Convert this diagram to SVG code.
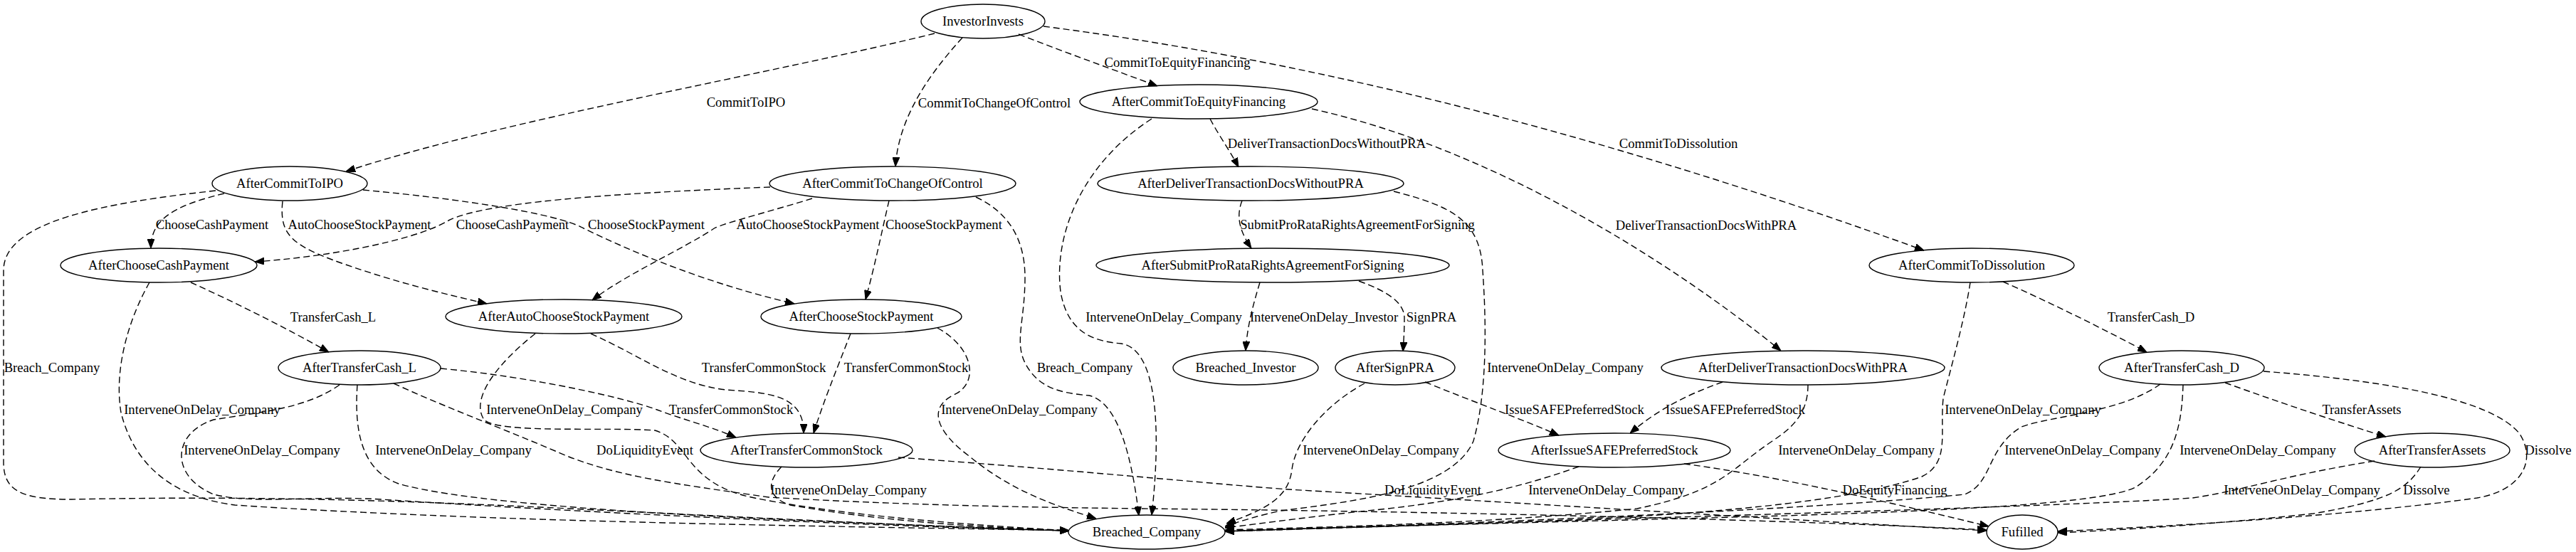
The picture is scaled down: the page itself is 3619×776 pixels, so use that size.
<svg xmlns="http://www.w3.org/2000/svg" width="3619" height="776" viewBox="0 0 3619 776">
<style>
.node ellipse{fill:none;stroke:#000;stroke-width:1.4}
text{font-family:"Liberation Serif","Times New Roman",serif;font-size:18.67px;text-anchor:middle;fill:#000}
.e path{fill:none;stroke:#000;stroke-width:1.4;stroke-dasharray:9,5;marker-end:url(#arr)}
</style>
<defs>
<marker id="arr" viewBox="0 0 13 10" refX="13" refY="5" markerWidth="13" markerHeight="10" markerUnits="userSpaceOnUse" orient="auto">
<path d="M0,0 L13,5 L0,10 z" fill="#000" stroke="#000" stroke-width="1"/>
</marker>
</defs>
<rect width="3619" height="776" fill="#fff"/>
<g id="connectors">
<g class="e"><path d="M1313,47 C1100,100 700,170 486,241"/><text x="1048" y="150">CommitToIPO</text></g>
<g class="e"><path d="M1352,53 C1300,110 1262,170 1258,234"/><text x="1397" y="151">CommitToChangeOfControl</text></g>
<g class="e"><path d="M1431,48 C1500,75 1570,100 1626,121"/><text x="1654" y="94">CommitToEquityFinancing</text></g>
<g class="e"><path d="M1466,37 C1800,80 2200,170 2703,352"/><text x="2358" y="208">CommitToDissolution</text></g>
<g class="e"><path d="M1700,167 C1712,190 1728,212 1740,235"/><text x="1864" y="208">DeliverTransactionDocsWithoutPRA</text></g>
<g class="e"><path d="M1843,153 C2100,210 2350,370 2502,493"/><text x="2397" y="323">DeliverTransactionDocsWithPRA</text></g>
<g class="e"><path d="M1618,167 C1520,230 1480,330 1490,410 C1500,470 1540,480 1575,483 C1625,490 1632,600 1618,724"/><text x="1635" y="452">InterveneOnDelay_Company</text></g>
<g class="e"><path d="M315,272 C240,290 212,310 212,349"/><text x="298" y="322">ChooseCashPayment</text></g>
<g class="e"><path d="M397,283 C392,330 410,345 480,370 C560,398 620,412 684,427"/><text x="505" y="322">AutoChooseStockPayment</text></g>
<g class="e"><path d="M510,267 C650,280 780,300 818,320 C900,360 1000,400 1116,427"/><text x="908" y="322">ChooseStockPayment</text></g>
<g class="e"><path d="M303,268 C150,285 5,310 5,380 L5,650 C5,690 30,702 100,702 C300,698 500,700 800,715 C1100,730 1350,742 1502,746"/><text x="73" y="523">Breach_Company</text></g>
<g class="e"><path d="M1082,263 C850,272 680,285 630,310 C580,340 450,362 358,368"/><text x="720" y="322">ChooseCashPayment</text></g>
<g class="e"><path d="M1141,279 C1090,295 1030,310 1005,320 C960,350 880,385 832,422"/><text x="1135" y="322">AutoChooseStockPayment</text></g>
<g class="e"><path d="M1249,282 C1240,320 1230,370 1216,421"/><text x="1326" y="322">ChooseStockPayment</text></g>
<g class="e"><path d="M1371,277 C1420,300 1440,340 1440,390 C1440,450 1425,480 1440,510 C1460,550 1500,553 1530,556 C1570,565 1590,640 1600,725"/><text x="1524" y="523">Breach_Company</text></g>
<g class="e"><path d="M268,397 C330,425 400,460 462,495"/><text x="468" y="452">TransferCash_L</text></g>
<g class="e"><path d="M210,397 C180,450 160,520 170,580 C190,660 250,700 330,710 C700,735 1200,740 1502,746"/><text x="284" y="582">InterveneOnDelay_Company</text></g>
<g class="e"><path d="M830,469 C900,500 950,540 1020,548 C1080,552 1130,555 1129,609"/><text x="1073" y="523">TransferCommonStock</text></g>
<g class="e"><path d="M752,469 C700,510 660,560 680,590 C700,610 850,600 920,605 C970,620 960,680 1060,700 C1200,728 1400,740 1502,746"/><text x="793" y="582">InterveneOnDelay_Company</text></g>
<g class="e"><path d="M1195,469 C1175,520 1155,570 1143,609"/><text x="1273" y="523">TransferCommonStock</text></g>
<g class="e"><path d="M1317,461 C1370,490 1375,540 1340,555 C1300,575 1320,610 1360,640 C1420,690 1480,710 1540,729"/><text x="1432" y="582">InterveneOnDelay_Company</text></g>
<g class="e"><path d="M619,518 C750,530 880,560 923,576 C960,590 1000,600 1034,615"/><text x="1027" y="582">TransferCommonStock</text></g>
<g class="e"><path d="M477,541 C430,575 360,580 300,590 C240,610 240,670 300,695 C360,710 450,695 550,703 C900,725 1300,742 1502,746"/><text x="368" y="639">InterveneOnDelay_Company</text></g>
<g class="e"><path d="M502,541 C498,600 505,660 560,680 C700,720 1200,735 1502,746"/><text x="637" y="639">InterveneOnDelay_Company</text></g>
<g class="e"><path d="M553,539 C620,570 700,600 780,634 C860,670 950,680 1080,699 C1300,712 1500,714 1700,716 C2200,722 2600,735 2791,745"/><text x="906" y="639">DoLiquidityEvent</text></g>
<g class="e"><path d="M1098,656 C1075,680 1080,700 1110,710 C1250,735 1400,742 1502,746"/><text x="1192" y="695">InterveneOnDelay_Company</text></g>
<g class="e"><path d="M1262,643 C1500,660 1700,680 1810,688 C2100,705 2500,730 2791,746"/><text x="2013" y="695">DoLiquidityEvent</text></g>
<g class="e"><path d="M1770,397 C1760,430 1752,460 1750,493"/><text x="1860" y="452">InterveneOnDelay_Investor</text></g>
<g class="e"><path d="M1909,395 C1950,410 1972,425 1973,446 C1973,465 1972,480 1971,494"/><text x="2011" y="452">SignPRA</text></g>
<g class="e"><path d="M1745,282 C1738,300 1738,320 1758,349"/><text x="1907" y="322">SubmitProRataRightsAgreementForSigning</text></g>
<g class="e"><path d="M1958,269 C2040,290 2080,310 2083,380 C2088,450 2090,550 2070,620 C2040,690 1900,705 1800,718 C1770,724 1745,732 1721,740"/><text x="2199" y="523">InterveneOnDelay_Company</text></g>
<g class="e"><path d="M2002,537 C2070,565 2140,590 2190,612"/><text x="2212" y="582">IssueSAFEPreferredStock</text></g>
<g class="e"><path d="M1917,539 C1860,570 1820,620 1815,660 C1810,700 1780,715 1723,736"/><text x="1940" y="639">InterveneOnDelay_Company</text></g>
<g class="e"><path d="M2420,537 C2370,555 2330,575 2290,609"/><text x="2438" y="582">IssueSAFEPreferredStock</text></g>
<g class="e"><path d="M2540,541 C2540,580 2520,600 2490,620 C2430,660 2420,690 2300,715 C2100,735 1900,740 1721,745"/><text x="2608" y="639">InterveneOnDelay_Company</text></g>
<g class="e"><path d="M2218,656 C2150,680 2080,700 1950,715 C1850,725 1780,735 1721,742"/><text x="2257" y="695">InterveneOnDelay_Company</text></g>
<g class="e"><path d="M2366,652 C2500,670 2650,705 2794,740"/><text x="2662" y="695">DoEquityFinancing</text></g>
<g class="e"><path d="M2814,396 C2880,425 2960,465 3016,495"/><text x="3022" y="452">TransferCash_D</text></g>
<g class="e"><path d="M2768,397 C2760,450 2740,520 2730,560 C2725,610 2740,650 2700,670 C2600,705 2400,725 2100,735 C1950,740 1800,744 1721,746"/><text x="2842" y="582">InterveneOnDelay_Company</text></g>
<g class="e"><path d="M3126,538 C3200,565 3290,595 3352,614"/><text x="3318" y="582">TransferAssets</text></g>
<g class="e"><path d="M3035,540 C2980,580 2880,585 2840,600 C2790,630 2800,680 2760,695 C2500,720 2000,738 1721,747"/><text x="2926" y="639">InterveneOnDelay_Company</text></g>
<g class="e"><path d="M3067,541 C3065,600 3055,650 3000,685 C2950,710 2700,720 2400,728 C2100,736 1850,742 1721,747"/><text x="3172" y="639">InterveneOnDelay_Company</text></g>
<g class="e"><path d="M3180,522 C3350,535 3500,560 3540,610 C3565,650 3540,690 3480,700 C3300,725 3050,740 2891,747"/><text x="3580" y="639">Dissolve</text></g>
<g class="e"><path d="M3336,648 C3200,670 3150,690 3080,700 C2900,712 2400,725 2100,735 C1950,740 1800,745 1721,747"/><text x="3234" y="695">InterveneOnDelay_Company</text></g>
<g class="e"><path d="M3401,656 C3380,690 3350,705 3250,722 C3100,738 2980,745 2891,749"/><text x="3409" y="695">Dissolve</text></g>
</g>
<g id="InvestorInvests" class="node"><ellipse cx="1381" cy="30" rx="87" ry="24"/><text x="1381" y="36">InvestorInvests</text></g>
<g id="AfterCommitToEquityFinancing" class="node"><ellipse cx="1684" cy="143" rx="167" ry="24"/><text x="1684" y="149">AfterCommitToEquityFinancing</text></g>
<g id="AfterCommitToIPO" class="node"><ellipse cx="407" cy="258" rx="109" ry="24"/><text x="407" y="264">AfterCommitToIPO</text></g>
<g id="AfterCommitToChangeOfControl" class="node"><ellipse cx="1254" cy="258" rx="173" ry="24"/><text x="1254" y="264">AfterCommitToChangeOfControl</text></g>
<g id="AfterDeliverTransactionDocsWithoutPRA" class="node"><ellipse cx="1757" cy="258" rx="215" ry="24"/><text x="1757" y="264">AfterDeliverTransactionDocsWithoutPRA</text></g>
<g id="AfterChooseCashPayment" class="node"><ellipse cx="223" cy="373" rx="138" ry="24"/><text x="223" y="379">AfterChooseCashPayment</text></g>
<g id="AfterSubmitProRataRightsAgreementForSigning" class="node"><ellipse cx="1788" cy="373" rx="248" ry="24"/><text x="1788" y="379">AfterSubmitProRataRightsAgreementForSigning</text></g>
<g id="AfterCommitToDissolution" class="node"><ellipse cx="2770" cy="373" rx="144" ry="24"/><text x="2770" y="379">AfterCommitToDissolution</text></g>
<g id="AfterAutoChooseStockPayment" class="node"><ellipse cx="792" cy="445" rx="166" ry="24"/><text x="792" y="451">AfterAutoChooseStockPayment</text></g>
<g id="AfterChooseStockPayment" class="node"><ellipse cx="1210" cy="445" rx="141" ry="24"/><text x="1210" y="451">AfterChooseStockPayment</text></g>
<g id="AfterTransferCash_L" class="node"><ellipse cx="505" cy="517" rx="114" ry="24"/><text x="505" y="523">AfterTransferCash_L</text></g>
<g id="Breached_Investor" class="node"><ellipse cx="1750" cy="517" rx="102" ry="24"/><text x="1750" y="523">Breached_Investor</text></g>
<g id="AfterSignPRA" class="node"><ellipse cx="1960" cy="517" rx="84" ry="24"/><text x="1960" y="523">AfterSignPRA</text></g>
<g id="AfterDeliverTransactionDocsWithPRA" class="node"><ellipse cx="2533" cy="517" rx="199" ry="24"/><text x="2533" y="523">AfterDeliverTransactionDocsWithPRA</text></g>
<g id="AfterTransferCash_D" class="node"><ellipse cx="3065" cy="517" rx="116" ry="24"/><text x="3065" y="523">AfterTransferCash_D</text></g>
<g id="AfterTransferCommonStock" class="node"><ellipse cx="1133" cy="633" rx="149" ry="24"/><text x="1133" y="639">AfterTransferCommonStock</text></g>
<g id="AfterIssueSAFEPreferredStock" class="node"><ellipse cx="2268" cy="633" rx="163" ry="24"/><text x="2268" y="639">AfterIssueSAFEPreferredStock</text></g>
<g id="AfterTransferAssets" class="node"><ellipse cx="3417" cy="633" rx="109" ry="24"/><text x="3417" y="639">AfterTransferAssets</text></g>
<g id="Breached_Company" class="node"><ellipse cx="1611" cy="748" rx="110" ry="24"/><text x="1611" y="754">Breached_Company</text></g>
<g id="Fufilled" class="node"><ellipse cx="2841" cy="748" rx="50" ry="24"/><text x="2841" y="754">Fufilled</text></g>
</svg>
